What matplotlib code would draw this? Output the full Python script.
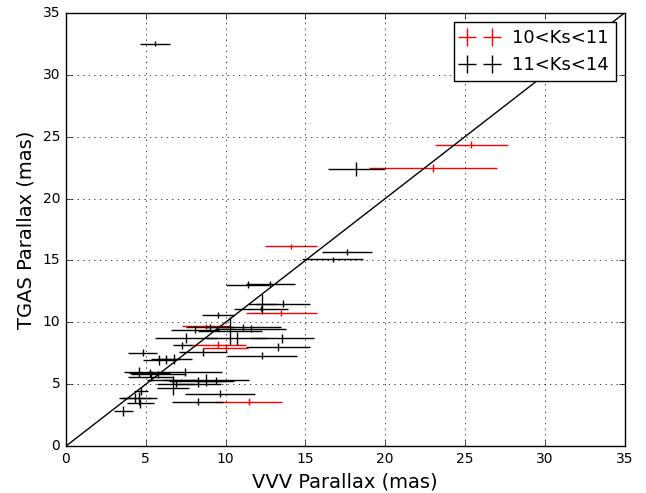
import matplotlib
matplotlib.use('Agg')
import matplotlib.pyplot as plt
import numpy as np

plt.style.use('classic')

# 10<Ks<11 (red)
vvv_r = [13.5, 8.8, 9.5, 10.0, 11.45, 14.1, 23.0, 25.4]
tgas_r = [10.75, 9.7, 8.2, 7.95, 3.6, 16.15, 22.45, 24.35]
vvv_r_err = [2.25, 1.5, 1.75, 1.4, 2.1, 1.65, 4.0, 2.3]
tgas_r_err = [0.25, 0.2, 0.3, 0.3, 0.3, 0.2, 0.3, 0.3]

# 11<Ks<14 (black)
vvv_k = [5.6, 18.2, 17.6, 16.7, 11.4, 12.8, 13.6, 12.3, 12.2, 9.5,
         9.0, 10.3, 11.1, 11.6, 8.1, 7.5, 10.7, 13.55, 7.3, 13.3,
         8.6, 12.3, 4.8, 5.85, 6.25, 6.8, 4.55, 5.25, 7.45, 5.8,
         5.3, 6.7, 8.25, 8.8, 9.4, 6.9, 8.3, 6.7, 9.65, 4.7,
         4.3, 4.6, 8.25, 4.65, 3.6]
tgas_k = [32.5, 22.4, 15.65, 15.1, 13.05, 13.1, 11.5, 11.45, 11.1, 10.6,
          9.6, 9.3, 9.6, 9.5, 9.4, 8.7, 8.7, 8.7, 8.15, 8.0,
          7.6, 7.3, 7.55, 6.95, 7.0, 7.05, 6.0, 5.9, 6.0, 5.8,
          5.55, 5.35, 5.3, 5.35, 5.3, 5.05, 5.05, 4.7, 4.25, 4.45,
          3.9, 3.85, 3.6, 3.45, 2.85]
vvv_k_err = [0.95, 1.8, 1.55, 1.9, 1.35, 1.55, 1.7, 0.9, 1.7, 1.0,
             1.5, 2.0, 2.4, 2.2, 1.5, 1.95, 1.9, 2.0, 0.6, 2.0,
             1.5, 2.2, 0.9, 1.0, 0.9, 1.1, 0.9, 1.3, 2.3, 1.7,
             1.4, 1.6, 1.8, 2.7, 1.1, 1.2, 1.4, 1.0, 2.2, 0.45,
             1.0, 1.1, 1.6, 0.85, 0.6]
tgas_k_err = [0.2, 0.55, 0.25, 0.2, 0.25, 0.25, 0.3, 0.8, 0.2, 0.25,
              0.3, 1.1, 0.3, 0.3, 0.3, 0.4, 0.5, 0.35, 0.3, 0.3,
              0.3, 0.3, 0.3, 0.4, 0.35, 0.4, 0.4, 0.35, 0.35, 0.3,
              0.3, 0.35, 0.3, 0.5, 0.3, 0.3, 0.3, 0.55, 0.3, 0.3,
              0.4, 0.5, 0.25, 0.35, 0.4]

fig = plt.figure(figsize=(6.46, 4.93), dpi=100, facecolor='white')
ax = fig.add_axes([0.102, 0.095, 0.865, 0.879])

ax.errorbar(vvv_r, tgas_r, xerr=vvv_r_err, yerr=tgas_r_err, fmt='none',
            ecolor='r', capsize=0, label='10<Ks<11')
ax.errorbar(vvv_k, tgas_k, xerr=vvv_k_err, yerr=tgas_k_err, fmt='none',
            ecolor='k', capsize=0, label='11<Ks<14')
ax.plot([0, 35], [0, 35], 'k-', lw=1)

ax.set_xlim(0, 35)
ax.set_ylim(0, 35)
ax.grid(True)
ax.set_xlabel('VVV Parallax (mas)', fontsize=14)
ax.set_ylabel('TGAS Parallax (mas)', fontsize=14)
ax.tick_params(labelsize=10)
ax.legend(loc='upper right', numpoints=2, fontsize=13)

fig.savefig('out.png', dpi=100, facecolor='white')
